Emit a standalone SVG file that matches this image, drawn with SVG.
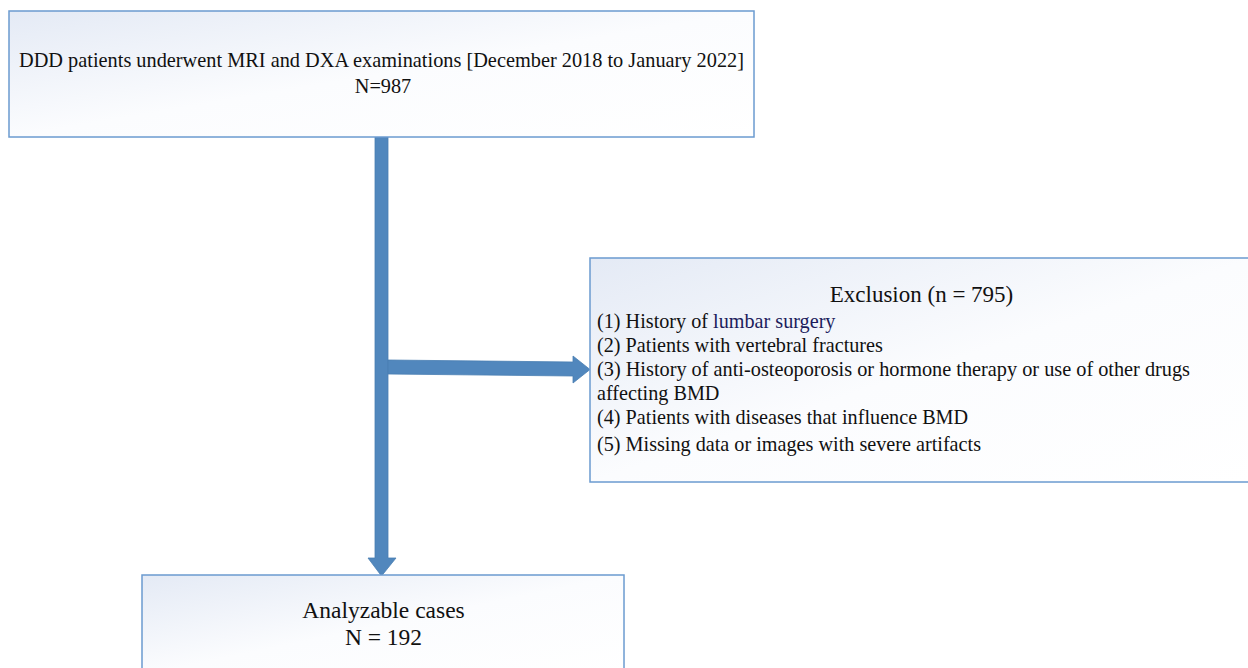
<svg xmlns="http://www.w3.org/2000/svg" width="1248" height="668" viewBox="0 0 1248 668">
<defs>
<linearGradient id="bg" x1="0" y1="0" x2="1" y2="1">
<stop offset="0" stop-color="#e4eaf5"/>
<stop offset="0.5" stop-color="#fbfcfe"/>
<stop offset="1" stop-color="#ffffff"/>
</linearGradient>
<style>
.box{fill:url(#bg);stroke:#6b9bd0;stroke-width:1.5}
.t{font-family:"Liberation Serif","Times New Roman",serif;fill:#111}
.l{font-size:20.2px}
.arr{fill:#5187bd;stroke:#4a7fb3;stroke-width:0.8}
</style>
</defs>
<rect width="1248" height="668" fill="#ffffff"/>
<g id="connectors">
<path class="arr" d="M375 137 L388 137 L388 558 L396 558 L381.5 576 L368 558 L375 558 Z"/>
<path class="arr" d="M388 360 L573 362 L573 356 L590 369.5 L573 383 L573 376 L388 374 Z"/>
</g>
<g id="node-top">
<rect class="box" x="9" y="11" width="745" height="126"/>
<text class="t" x="381.5" y="67" font-size="20.3" text-anchor="middle" textLength="725" lengthAdjust="spacingAndGlyphs">DDD patients underwent MRI and DXA examinations [December 2018 to January 2022]</text>
<text class="t" x="383" y="93" font-size="20.3" text-anchor="middle">N=987</text>
</g>
<g id="node-exclusion">
<rect class="box" x="590" y="258" width="665" height="224"/>
<text class="t" x="921.5" y="302" font-size="23" text-anchor="middle">Exclusion (n = 795)</text>
<text class="t l" x="597" y="328">(1) History of <tspan fill="#1c1c5c">lumbar surgery</tspan></text>
<text class="t l" x="597" y="352">(2) Patients with vertebral fractures</text>
<text class="t l" x="597" y="376" textLength="593" lengthAdjust="spacingAndGlyphs">(3) History of anti-osteoporosis or hormone therapy or use of other drugs</text>
<text class="t l" x="597" y="400">affecting BMD</text>
<text class="t l" x="597" y="424">(4) Patients with diseases that influence BMD</text>
<text class="t l" x="597" y="451">(5) Missing data or images with severe artifacts</text>
</g>
<g id="node-analyzable">
<rect class="box" x="142" y="575" width="482" height="100"/>
<text class="t" x="383.5" y="618" font-size="23.5" text-anchor="middle">Analyzable cases</text>
<text class="t" x="383.5" y="645" font-size="23.5" text-anchor="middle">N = 192</text>
</g>
</svg>
